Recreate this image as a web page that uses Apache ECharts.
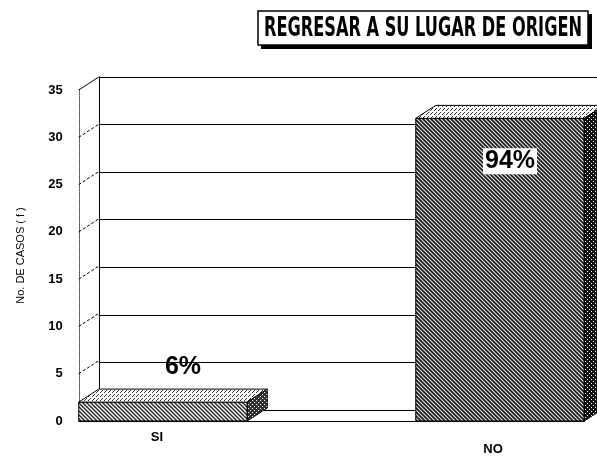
<!DOCTYPE html>
<html>
<head>
<meta charset="utf-8">
<script src="https://cdn.jsdelivr.net/npm/echarts@6/dist/echarts.min.js"></script>
<style>
  html, body { margin: 0; padding: 0; background: #fff; }
  #chart { width: 597px; height: 456px; }
</style>
</head>
<body>
<div id="chart"></div>
<script>
// datos del gráfico
var categories = ['SI', 'NO'];
var values = [2, 32];
var pctLabels = ['6%', '94%'];
var yTicks = [0, 5, 10, 15, 20, 25, 30, 35];

var titleText = 'REGRESAR A SU LUGAR DE ORIGEN';
var yName = 'No. DE CASOS ( f )';

// profundidad del efecto 3D (px)
var DX = 20, DY = -13;

// texturas tipo "trama" del escaneo
function hatch(bg, fg, step, lw) {
  var c = document.createElement('canvas');
  c.width = step; c.height = step;
  var g = c.getContext('2d');
  g.fillStyle = bg; g.fillRect(0, 0, step, step);
  g.strokeStyle = fg; g.lineWidth = lw;
  g.beginPath();
  g.moveTo(-1, -1); g.lineTo(step + 1, step + 1);
  g.moveTo(-1, step - 1); g.lineTo(1, step + 1);
  g.moveTo(step - 1, -1); g.lineTo(step + 1, 1);
  g.stroke();
  return { image: c, repeat: 'repeat' };
}
function dots(bg, fg, cells) {
  var c = document.createElement('canvas');
  c.width = 4; c.height = 4;
  var g = c.getContext('2d');
  g.fillStyle = bg; g.fillRect(0, 0, 4, 4);
  g.fillStyle = fg;
  cells.forEach(function (p) { g.fillRect(p[0], p[1], 1, 1); });
  return { image: c, repeat: 'repeat' };
}

var faces = [
  { // SI
    front: hatch('#ffffff', '#222222', 4, 1.4),
    top: dots('#ffffff', '#333333', [[0, 0], [2, 2], [1, 3]]),
    side: dots('#333333', '#ffffff', [[0, 0], [2, 2]])
  },
  { // NO
    front: hatch('#e0e0e0', '#1a1a1a', 4, 1.6),
    top: dots('#ffffff', '#333333', [[0, 0], [2, 2], [3, 1]]),
    side: dots('#111111', '#ffffff', [[1, 1], [3, 3]])
  }
];

var chart = echarts.init(document.getElementById('chart'), null, { renderer: 'canvas' });

// ajustar ancho del título
var mc = document.createElement('canvas').getContext('2d');
mc.font = 'bold 26px "DejaVu Sans Condensed"';
var titleScale = 318 / mc.measureText(titleText).width;

var frontGrid = { left: 78.75, top: 90, width: 505.5, height: 333 };
var backGrid = { left: 78.75 + DX, top: 90 + DY, width: 505.5, height: 333 };

var barData = categories.map(function (c, i) { return [i, values[i]]; });

var option = {
  backgroundColor: '#ffffff',
  animation: false,
  graphic: [
    { type: 'rect', shape: { x: 261, y: 14, width: 331, height: 35 }, style: { fill: '#000' }, z: 10 },
    { type: 'rect', shape: { x: 258, y: 11, width: 330, height: 34 }, style: { fill: '#fff', stroke: '#000', lineWidth: 1.5 }, z: 11 },
    {
      type: 'text', x: 423, y: 29, scaleX: titleScale, z: 12,
      style: { text: titleText, font: 'bold 26px "DejaVu Sans Condensed"', fill: '#000', align: 'center', verticalAlign: 'middle' }
    }
  ],
  grid: [
    { left: backGrid.left, top: backGrid.top, width: backGrid.width, height: backGrid.height },
    { left: frontGrid.left, top: frontGrid.top, width: frontGrid.width, height: frontGrid.height }
  ],
  xAxis: [
    { gridIndex: 0, type: 'value', min: 0, max: 1, show: false },
    {
      gridIndex: 1, type: 'value', min: -0.25, max: 1.25, interval: 0.25,
      axisLine: { show: true, onZero: false, lineStyle: { color: '#000', width: 1 } },
      axisTick: { show: false },
      splitLine: { show: false },
      axisLabel: {
        margin: 10,
        formatter: function (v) {
          var i = Math.round(v);
          if (Math.abs(v - i) > 1e-6 || !categories[i]) return '';
          return '{c' + i + '|' + categories[i] + '}';
        },
        rich: {
          c0: { fontFamily: 'Liberation Sans', fontWeight: 'bold', fontSize: 13, color: '#000', padding: [0, 12, 0, 0] },
          c1: { fontFamily: 'Liberation Sans', fontWeight: 'bold', fontSize: 13, color: '#000', padding: [12, 14, 0, 0] }
        }
      }
    }
  ],
  yAxis: [
    {
      gridIndex: 0, type: 'value', min: 0, max: 35, interval: 5,
      axisLine: { show: true, onZero: false, lineStyle: { color: '#000', width: 1 } },
      axisTick: { show: false },
      axisLabel: { show: false },
      splitLine: { show: true, lineStyle: { color: '#000', width: 1 } }
    },
    {
      gridIndex: 1, type: 'value', min: 0, max: 35, interval: 5,
      name: yName, nameLocation: 'middle', nameGap: 52, nameRotate: 90,
      nameTextStyle: { fontFamily: 'Liberation Sans', fontSize: 11, color: '#000' },
      axisLine: { show: true, onZero: false, lineStyle: { color: '#444', width: 1, type: 'dotted' } },
      axisTick: { show: false },
      splitLine: { show: false },
      axisLabel: { margin: 16, fontFamily: 'Liberation Sans', fontWeight: 'bold', fontSize: 13, color: '#000' }
    }
  ],
  series: [
    {
      // diagonales de la pared lateral
      type: 'custom', xAxisIndex: 1, yAxisIndex: 1, z: 1, silent: true,
      data: yTicks.map(function (v) { return [-0.25, v]; }),
      renderItem: function (params, api) {
        var p = api.coord([api.value(0), api.value(1)]);
        var v = api.value(1);
        var edge = v === yTicks[0] || v === yTicks[yTicks.length - 1];
        return {
          type: 'line',
          shape: { x1: p[0], y1: p[1], x2: p[0] + DX, y2: p[1] + DY },
          style: { stroke: '#000', lineWidth: 1, lineDash: edge ? null : [3, 2] }
        };
      }
    },
    {
      type: 'custom', xAxisIndex: 1, yAxisIndex: 1, z: 5, silent: true,
      data: barData,
      renderItem: function (params, api) {
        var i = params.dataIndex;
        var x = api.value(0), v = api.value(1);
        var tl = api.coord([x - 0.25, v]);
        var br = api.coord([x + 0.25, 0]);
        var l = tl[0], t = tl[1], r = br[0], b = br[1];
        var f = faces[i];
        var st = { stroke: '#000', lineWidth: 1 };
        var cx = (l + r) / 2;
        var tall = v > 10;
        return {
          type: 'group',
          children: [
            { type: 'rect', shape: { x: l, y: t, width: r - l, height: b - t }, style: Object.assign({ fill: f.front }, st) },
            { type: 'polygon', shape: { points: [[l, t], [r, t], [r + DX, t + DY], [l + DX, t + DY]] }, style: Object.assign({ fill: f.top }, st) },
            { type: 'polygon', shape: { points: [[r, t], [r + DX, t + DY], [r + DX, b + DY], [r, b]] }, style: Object.assign({ fill: f.side }, st) },
            {
              type: 'text', z2: 10,
              style: {
                text: pctLabels[i],
                x: cx + (tall ? 10 : 20),
                y: tall ? t + 43 : t - 35,
                font: 'bold 25px "Liberation Sans"',
                fill: '#000', align: 'center', verticalAlign: 'middle',
                backgroundColor: tall ? '#fff' : null,
                padding: tall ? [1, 2, 0, 2] : 0
              }
            }
          ]
        };
      }
    }
  ]
};

chart.setOption(option);
</script>
</body>
</html>
